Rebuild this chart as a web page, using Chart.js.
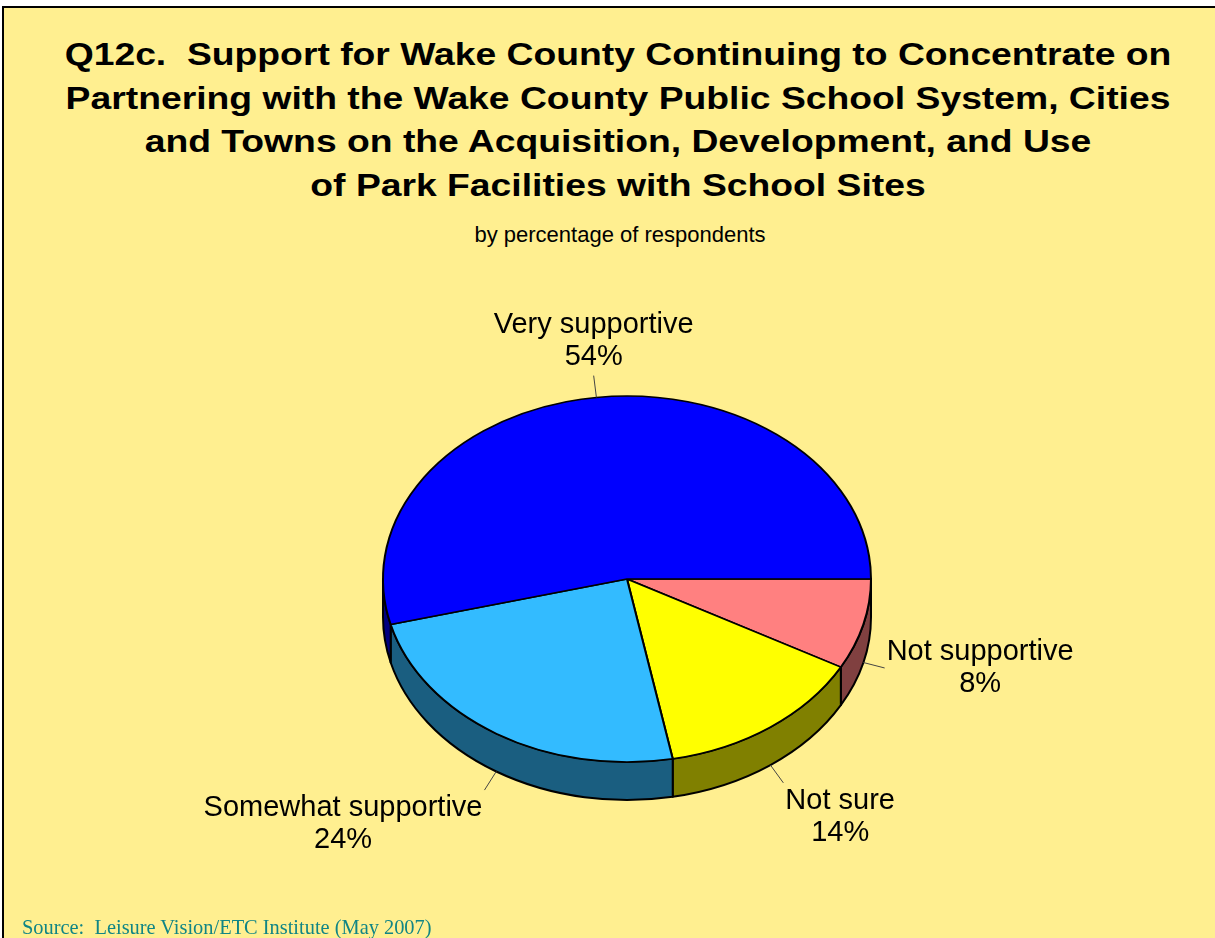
<!DOCTYPE html>
<html>
<head>
<meta charset="utf-8">
<script src="https://cdn.jsdelivr.net/npm/chart.js@4.4.1/dist/chart.umd.min.js"></script>
<style>
  html, body { margin: 0; padding: 0; background: #ffffff; }
  body { width: 1215px; height: 938px; position: relative; overflow: hidden; }
  #frame {
    position: absolute; left: 2px; top: 6px; width: 1260px; height: 980px;
    background: #FFEF90; border: 2px solid #000;
  }
  #wrap { position: absolute; left: 0; top: 0; width: 1215px; height: 938px; }
  #title {
    position: absolute; left: 0; top: 33px; width: 1236px; text-align: center;
    font-family: "Liberation Sans", Arial, sans-serif; font-weight: bold;
    font-size: 32px; line-height: 43.5px; color: #000;
    transform: scaleX(1.165); transform-origin: 618px 0;
  }
  #subtitle {
    position: absolute; left: 0; top: 222px; width: 1240px; text-align: center;
    font-family: "Liberation Sans", Arial, sans-serif; font-size: 22px; color: #000;
  }
  #source {
    position: absolute; left: 22px; top: 916px;
    font-family: "Liberation Serif", "Times New Roman", serif; font-size: 20.4px; color: #118585;
  }
</style>
</head>
<body>
<div id="frame"></div>
<div id="title">Q12c.&nbsp; Support for Wake County Continuing to Concentrate on<br>Partnering with the Wake County Public School System, Cities<br>and Towns on the Acquisition, Development, and Use<br>of Park Facilities with School Sites</div>
<div id="subtitle">by percentage of respondents</div>
<div id="wrap"><canvas id="chart"></canvas></div>
<div id="source">Source:&nbsp; Leisure Vision/ETC Institute (May 2007)</div>
<script>
// Survey responses, listed clockwise from 3 o'clock
const categories = ['Not supportive', 'Not sure', 'Somewhat supportive', 'Very supportive'];
const percents = [8, 14, 24, 54];
const topColors = ['#FF8080', '#FFFF00', '#33BBFF', '#0000FF'];
const sideColors = ['#804040', '#808000', '#1A5E80', '#000080'];

// 3-D look: vertical squash of the pie and thickness of its rim
const TILT = 0.75;
const DEPTH = 38;
const LABEL_FONT = '29px "Liberation Sans", Arial, sans-serif';

const pie3d = {
  id: 'pie3d',
  beforeDatasetsDraw(chart) {
    const ctx = chart.ctx;
    const arcs = chart.getDatasetMeta(0).data;
    const p0 = arcs[0].getProps(['x', 'y', 'outerRadius'], true);
    const cx = p0.x, cy = p0.y, rx = p0.outerRadius, ry = rx * TILT;
    const TWO_PI = Math.PI * 2;

    // rim: only the front half (angles 0..PI) is visible
    ctx.save();
    ctx.lineWidth = 2;
    ctx.strokeStyle = '#000';
    ctx.lineJoin = 'round';
    arcs.forEach((arc, i) => {
      const p = arc.getProps(['startAngle', 'endAngle'], true);
      let s = ((p.startAngle % TWO_PI) + TWO_PI) % TWO_PI;
      let e = s + (p.endAngle - p.startAngle);
      // check both the raw span and the one shifted by a full turn
      [0, TWO_PI].forEach(shift => {
        const a = Math.max(s - shift, 0);
        const b = Math.min(e - shift, Math.PI);
        if (b - a <= 1e-6) return;
        ctx.beginPath();
        ctx.ellipse(cx, cy, rx, ry, 0, a, b, false);
        ctx.lineTo(cx + rx * Math.cos(b), cy + ry * Math.sin(b) + DEPTH);
        ctx.ellipse(cx, cy + DEPTH, rx, ry, 0, b, a, true);
        ctx.closePath();
        ctx.fillStyle = sideColors[i];
        ctx.fill();
        ctx.stroke();
      });
    });
    ctx.restore();

    // squash the top face into an ellipse
    ctx.save();
    ctx.translate(cx, cy);
    ctx.scale(1, TILT);
    ctx.translate(-cx, -cy);
  },
  afterDatasetsDraw(chart) {
    const ctx = chart.ctx;
    ctx.restore();
    const arcs = chart.getDatasetMeta(0).data;
    ctx.save();
    ctx.font = LABEL_FONT;
    ctx.fillStyle = '#000';
    ctx.textBaseline = 'middle';
    arcs.forEach((arc, i) => {
      const p = arc.getProps(['x', 'y', 'startAngle', 'endAngle', 'outerRadius'], true);
      const rx = p.outerRadius, ry = rx * TILT;
      const mid = (p.startAngle + p.endAngle) / 2;
      const c = Math.cos(mid), s = Math.sin(mid);
      const sx = p.x + rx * c;
      const sy = p.y + ry * s + (s > 0 ? DEPTH : 0);
      const ex = sx + 22 * c, ey = sy + 22 * s;

      // leader line
      ctx.beginPath();
      ctx.strokeStyle = '#444';
      ctx.lineWidth = 1;
      ctx.moveTo(sx, sy);
      ctx.lineTo(ex, ey);
      ctx.stroke();

      const lines = [categories[i], percents[i] + '%'];
      const w = Math.max(...lines.map(t => ctx.measureText(t).width));
      const lh = 32;
      let centerX;
      if (Math.abs(c) < 0.3) centerX = ex;
      else if (c > 0) centerX = ex + 2 + w / 2;
      else centerX = ex - 2 - w / 2;
      let firstY;
      if (Math.abs(s) < 0.4) firstY = ey - lh / 2;
      else if (s > 0) firstY = ey + 18;
      else firstY = ey - 19 - lh;
      ctx.textAlign = 'center';
      lines.forEach((t, j) => ctx.fillText(t, centerX, firstY + j * lh));
    });
    ctx.restore();
  }
};

new Chart(document.getElementById('chart'), {
  type: 'pie',
  data: {
    labels: categories,
    datasets: [{
      data: percents,
      backgroundColor: topColors,
      borderColor: '#000',
      borderWidth: 2,
      radius: 244
    }]
  },
  options: {
    responsive: true,
    maintainAspectRatio: false,
    animation: false,
    events: [],
    rotation: 90,
    layout: { padding: { left: 383, right: 344, top: 335, bottom: 115 } },
    plugins: {
      legend: { display: false },
      tooltip: { enabled: false },
      title: { display: false }
    }
  },
  plugins: [pie3d]
});
</script>
</body>
</html>
